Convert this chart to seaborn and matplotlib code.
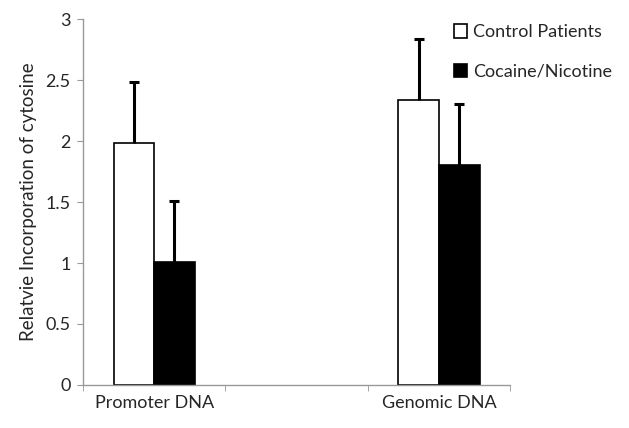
import numpy as np
import pandas as pd
import matplotlib.pyplot as plt
import seaborn as sns
from matplotlib.ticker import FixedLocator

sns.set_style("white")
plt.rcParams['font.family'] = ['Lato', 'DejaVu Sans']

# data
categories = ["Promoter DNA", " ", "Genomic DNA"]
groups = ["Control Patients", "Cocaine/Nicotine"]
control_vals = [1.98, 2.34]
cocaine_vals = [1.01, 1.80]
control_err = [0.50, 0.50]
cocaine_err = [0.50, 0.50]

df = pd.DataFrame({
    "site": ["Promoter DNA", "Genomic DNA"] * 2,
    "group": [groups[0]] * 2 + [groups[1]] * 2,
    "value": control_vals + cocaine_vals,
    "err": control_err + cocaine_err,
})

fig = plt.figure(figsize=(6.29, 4.28), dpi=100)
ax = fig.add_axes([0.132, 0.1005, 0.679, 0.855])

sns.barplot(data=df, x="site", y="value", hue="group", order=categories,
            hue_order=groups, palette=["white", "black"], width=0.57,
            edgecolor="black", linewidth=1.2, errorbar=None, ax=ax)

# upper error bars only, placed on the bars seaborn drew
for cont, grp in zip(ax.containers, groups):
    sub = df[df.group == grp].set_index("site")
    for bar in cont:
        h = bar.get_height()
        if np.isnan(h) or h == 0:
            continue
        xc = bar.get_x() + bar.get_width() / 2
        e = sub.loc[sub.value.sub(h).abs().idxmin(), "err"]
        eb = ax.errorbar(xc, h, yerr=[[0], [e]], fmt="none", ecolor="black",
                         elinewidth=2.2, capsize=3.5, capthick=2.2)
        eb[1][0].set_visible(False)  # drop the lower cap

ax.set_xlim(-0.5, 2.5)
ax.set_ylim(0, 3)
ax.set_yticks([0, 0.5, 1, 1.5, 2, 2.5, 3])
ax.set_yticklabels(["0", "0.5", "1", "1.5", "2", "2.5", "3"])
ax.xaxis.set_minor_locator(FixedLocator([-0.5, 0.5, 1.5, 2.5]))
ax.tick_params(axis="x", which="major", length=0, labelsize=13, pad=7)
ax.tick_params(axis="x", which="minor", length=4, color="#999999", bottom=True)
ax.tick_params(axis="y", length=4, color="#999999", labelsize=13, left=True, pad=5)
ax.set_xlabel("")
ax.set_ylabel("Relatvie Incorporation of cytosine", fontsize=13.5, labelpad=6)

sns.despine(ax=ax)
for s in ["left", "bottom"]:
    ax.spines[s].set_color("#999999")
    ax.spines[s].set_linewidth(1)

leg = ax.legend(loc="upper left", bbox_to_anchor=(0.83, 1.03), frameon=False,
                fontsize=13, handlelength=0.75, handleheight=0.75,
                handletextpad=0.3, labelspacing=1.3)
for h in leg.legend_handles:
    h.set_edgecolor("black")

fig.savefig("out.png", dpi=100)
